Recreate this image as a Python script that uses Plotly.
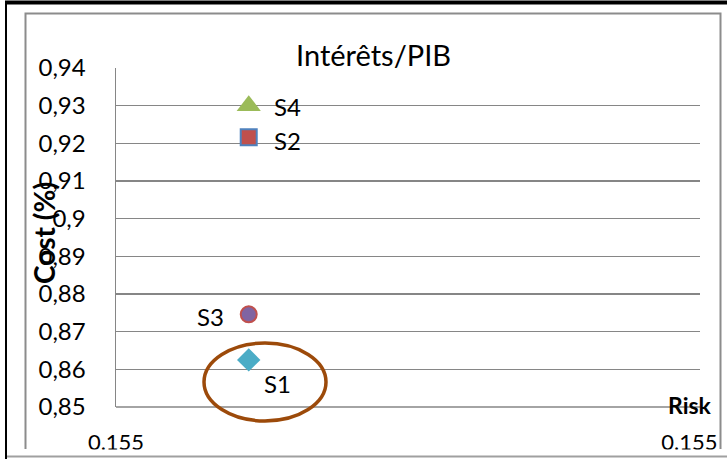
import plotly.graph_objects as go

# ---- data ----
scenarios = ["S1", "S2", "S3", "S4"]
risk = [0.1550, 0.1550, 0.1550, 0.1550]
cost = [0.8625, 0.9216, 0.8746, 0.9300]
y_ticks = [0.85, 0.86, 0.87, 0.88, 0.89, 0.90, 0.91, 0.92, 0.93, 0.94]
y_tick_labels = ["0,85", "0,86", "0,87", "0,88", "0,89", "0,9", "0,91", "0,92", "0,93", "0,94"]
x_ticks = [0.15450, 0.15666]
x_tick_labels = ["0.155", "0.155"]
title_text = "Intérêts/PIB"
y_title = "Cost (%)"
x_title = "Risk"

# ---- styles ----
symbols = {"S1": "diamond", "S2": "square", "S3": "circle", "S4": "triangle-up"}
fills = {"S1": "#4BACC6", "S2": "#C0504D", "S3": "#8064A2", "S4": "#9BBB59"}
borders = {"S1": "#4BACC6", "S2": "#4F81BD", "S3": "#C0504D", "S4": "#9BBB59"}
sizes = {"S1": 18, "S2": 16, "S3": 16, "S4": 21}
label_shift = {"S1": (29, -24), "S2": (39, -3), "S3": (-38, -2), "S4": (39, -1)}

FONT = "Lato, Carlito, Calibri, sans-serif"

fig = go.Figure()
for s, xv, yv in zip(scenarios, risk, cost):
    fig.add_trace(go.Scatter(
        x=[xv], y=[yv], mode="markers", name=s,
        marker=dict(symbol=symbols[s], size=sizes[s], color=fills[s],
                    line=dict(color=borders[s], width=2 if s in ("S2", "S3") else 0)),
        cliponaxis=False, showlegend=False, hoverinfo="skip",
    ))
    dx, dy = label_shift[s]
    fig.add_annotation(x=xv, y=yv, text=s, showarrow=False, xshift=dx, yshift=dy,
                       xanchor="center", yanchor="middle",
                       font=dict(family=FONT, size=24, color="#000000"))

W, H = 727, 459
L, R, T, B = 116, 700, 68, 407
pw, ph = R - L, B - T

def px(x):
    return (x - L) / pw

def py(y):
    return (B - y) / ph

fig.update_layout(
    width=W, height=H, autosize=False,
    margin=dict(l=L, r=W - R, t=T, b=H - B, pad=0),
    paper_bgcolor="white", plot_bgcolor="white",
    font=dict(family=FONT, size=20, color="#000000"),
    showlegend=False,
)
fig.update_xaxes(
    range=[0.15450, 0.15670], tickvals=x_ticks, ticktext=x_tick_labels,
    showgrid=False, zeroline=False, showline=False, ticks="", automargin=False,
    tickfont=dict(size=22), ticklabelstandoff=20,
)
fig.update_yaxes(
    range=[0.85, 0.94], tickvals=y_ticks, ticktext=y_tick_labels,
    showgrid=True, gridcolor="#868686", gridwidth=1.5, automargin=False,
    zeroline=False, showline=True, linecolor="#868686", linewidth=1.5, ticks="",
    tickfont=dict(size=24), ticklabelstandoff=24,
)

shapes = []
# white strip cropping the chart bottom
shapes.append(dict(type="rect", xref="paper", yref="paper", x0=px(7), x1=px(727), y0=py(449.5), y1=py(455.5),
                   fillcolor="white", line=dict(width=0), layer="above"))
# outer frame (black top & left, gray bottom)
shapes.append(dict(type="rect", xref="paper", yref="paper", x0=px(5), x1=px(727), y0=py(4.5), y1=py(0.5),
                   fillcolor="#000000", line=dict(width=0), layer="above"))
shapes.append(dict(type="rect", xref="paper", yref="paper", x0=px(5), x1=px(7), y0=py(459), y1=py(1),
                   fillcolor="#000000", line=dict(width=0), layer="above"))
shapes.append(dict(type="rect", xref="paper", yref="paper", x0=px(7), x1=px(727), y0=py(457.5), y1=py(455.5),
                   fillcolor="#A0A0A0", line=dict(width=0), layer="above"))
# inner chart frame (gray)
shapes.append(dict(type="path", xref="paper", yref="paper",
                   path=f"M {px(25.5)} {py(449)} L {px(25.5)} {py(13.5)} L {px(720.5)} {py(13.5)} L {px(720.5)} {py(449)}",
                   line=dict(color="#8C8C8C", width=2)))
# x axis line
shapes.append(dict(type="line", xref="paper", yref="paper", x0=0, x1=1, y0=0, y1=0,
                   line=dict(color="#868686", width=1.5)))
# brown ellipse highlighting S1
shapes.append(dict(type="circle", xref="paper", yref="paper",
                   x0=px(204), x1=px(326), y0=py(421), y1=py(343),
                   line=dict(color="#9C4A0A", width=3.5), layer="above"))
fig.update_layout(shapes=shapes)

fig.add_annotation(xref="paper", yref="paper", x=px(373), y=py(54), text=title_text, showarrow=False,
                   xanchor="center", yanchor="middle",
                   font=dict(family=FONT, size=29, color="#000000"))
fig.add_annotation(xref="paper", yref="paper", x=px(44), y=py(233), text=f"<b>{y_title}</b>",
                   xanchor="center", yanchor="middle",
                   textangle=-90, showarrow=False, font=dict(family=FONT, size=28, color="#000000"))
fig.add_annotation(xref="paper", yref="paper", x=px(690), y=py(405), text=f"<b>{x_title}</b>",
                   xanchor="center", yanchor="middle",
                   showarrow=False, font=dict(family=FONT, size=23, color="#000000"))

fig.write_html("out.html",
               config={"displayModeBar": False, "responsive": False, "staticPlot": True},
               post_script="document.body.style.margin='0';")
